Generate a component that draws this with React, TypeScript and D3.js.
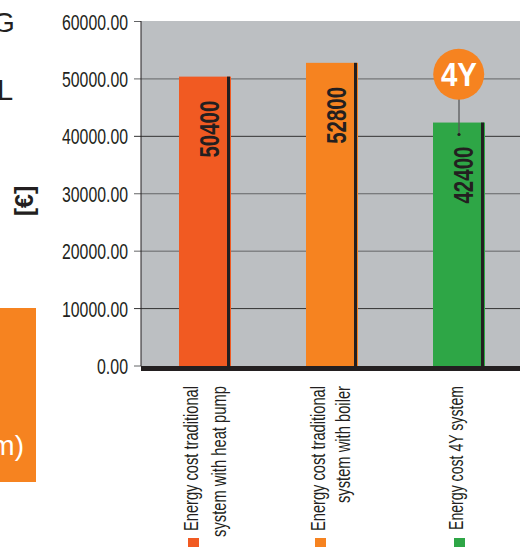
import React from "react";
import * as d3 from "d3";

const categories = ["heat pump", "boiler", "4Y"];
const values = [50400, 52800, 42400];
const colors = ["#f15a22", "#f68320", "#2ea646"];
const valueLabels = ["50400", "52800", "42400"];
const tickValues = [0, 10000, 20000, 30000, 40000, 50000, 60000];
const darkTicks = [10000, 40000];
const labelLines = [
  ["Energy cost traditional", "system with heat pump"],
  ["Energy cost traditional", "system with boiler"],
  ["Energy cost 4Y system"],
];

const FONT = "'Liberation Sans Narrow', 'Liberation Sans', sans-serif";
const INK = "#231f20";

const y = d3.scaleLinear().domain([0, 60000]).range([366, 21.5]);
const x = d3.scalePoint<string>().domain(categories).range([141, 522]).padding(0.5);

function VText({ cx, top, len, size, weight, fill, children }: any) {
  return (
    <text
      transform={`translate(${cx},${top}) rotate(-90)`}
      textAnchor="end"
      fontFamily={FONT}
      fontSize={size}
      fontWeight={weight}
      fill={fill}
      textLength={len}
      lengthAdjust="spacingAndGlyphs"
    >
      {children}
    </text>
  );
}

const lineLens = [[145, 151], [145, 117], [144]];
const lineXs = [[198, 226], [325, 350], [463]];
const swatchOffsets = [-16.5, -16.5, -4.5];

export default function App() {
  return (
    <svg width={520} height={547} style={{ position: "absolute", left: 0, top: 0 }}>
      <rect width={520} height={547} fill="#fff" />

      <text x={-7} y={32} fontFamily={FONT} fontSize={28} fill={INK}>G</text>
      <text x={-3} y={100} fontFamily={FONT} fontSize={29} fill={INK}>L</text>
      <text transform="translate(33,201) rotate(-90)" textAnchor="middle" fontFamily={FONT} fontSize={25} fontWeight={700} fill={INK}>[€]</text>
      <rect x={0} y={308} width={36} height={174} fill="#f68320" />
      <text x={24} y={455} textAnchor="end" fontFamily={FONT} fontSize={28} fill="#fff">m)</text>

      <rect x={141} y={21} width={379} height={345} fill="#bcbfc2" />

      {tickValues.map((t) => (
        <g key={t}>
          <line
            x1={134}
            x2={t === 0 || t === 60000 ? 141 : 520}
            y1={y(t)}
            y2={y(t)}
            stroke={darkTicks.includes(t) ? "#333" : "#636466"}
            strokeWidth={1}
          />
          <text
            x={128}
            y={y(t) + 8}
            textAnchor="end"
            fontFamily={FONT}
            fontSize={22}
            fill={INK}
            textLength={t === 0 ? 31 : 66}
            lengthAdjust="spacingAndGlyphs"
          >
            {d3.format(".2f")(t)}
          </text>
        </g>
      ))}
      <line x1={141} x2={141} y1={21} y2={366} stroke={INK} strokeWidth={1} />

      {categories.map((c, i) => {
        const cx = x(c)!;
        return (
          <g key={c}>
            <rect x={cx - 25.5} y={y(values[i])} width={52} height={366 - y(values[i])} fill={colors[i]} />
            <rect x={cx + 22.5} y={y(values[i])} width={3} height={366 - y(values[i])} fill={INK} />
            <VText cx={cx + 14.5} top={y(values[i]) + 24} len={57} size={28} weight={700} fill={INK}>
              {valueLabels[i]}
            </VText>
            {labelLines[i].map((l, j) => (
              <VText key={j} cx={lineXs[i][j]} top={386} len={lineLens[i][j]} size={21} weight={400} fill={INK}>
                {l}
              </VText>
            ))}
            <rect x={cx + swatchOffsets[i]} y={538} width={11} height={9} fill={colors[i]} />
          </g>
        );
      })}

      <rect x={141} y={366} width={379} height={5} fill={INK} />

      <line x1={459} x2={459} y1={95} y2={134.5} stroke="#58595b" strokeWidth={1.3} />
      <circle cx={459} cy={134.5} r={1.6} fill={INK} />
      <circle cx={458.7} cy={74.3} r={25.5} fill="#f68320" />
      <text x={459} y={86} textAnchor="middle" fontFamily="'Liberation Sans', sans-serif" fontWeight={700} fontSize={33} fill="#fff" textLength={36} lengthAdjust="spacingAndGlyphs">4Y</text>
    </svg>
  );
}
